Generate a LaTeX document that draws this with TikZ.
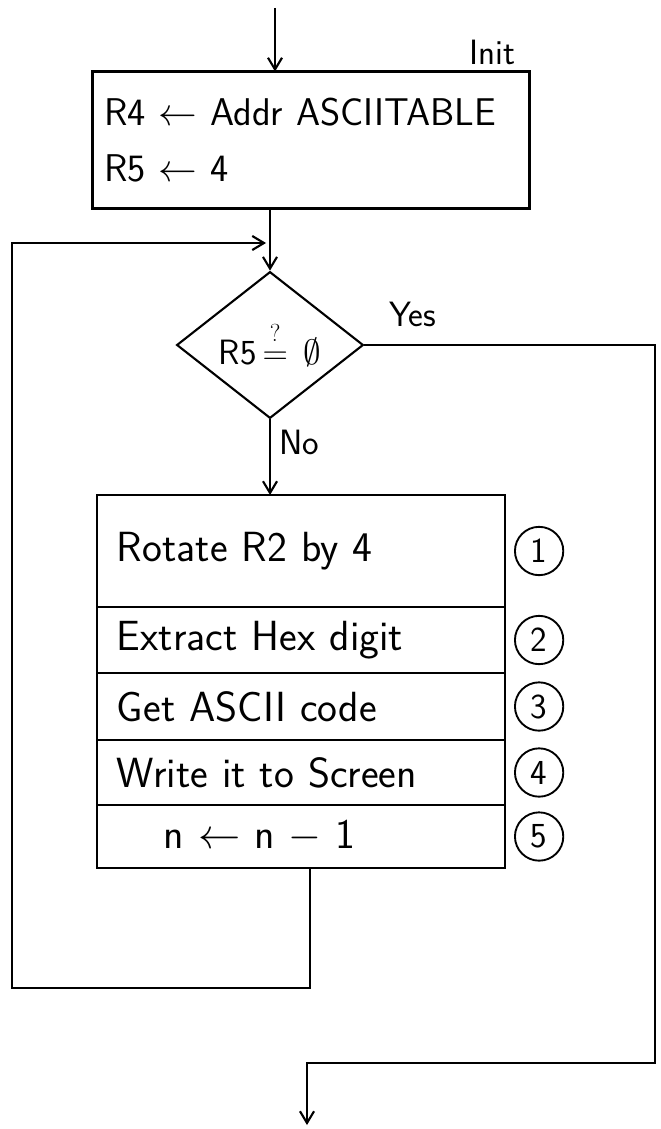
\RequirePackage{fix-cm}
\documentclass[tikz,border=0pt]{standalone}
\usetikzlibrary{shapes.geometric,positioning,arrows.meta}
\begin{document}
\begin{tikzpicture}[x=0.03cm,y=-0.03cm,
  every node/.style={font=\sffamily\fontsize{30}{34}\selectfont},
  flow/.style={line width=1.8pt},
  arr/.style={flow,-{Straight Barb[length=10pt,width=12pt]}},
  blok/.style={draw,line width=1.8pt,rectangle,outer sep=0pt},
  rij/.style={blok,text width=11.04cm,inner xsep=0.6cm,inner ysep=0pt,align=left,
    font=\sffamily\fontsize{36}{40}\selectfont},
  keus/.style={draw,line width=1.8pt,diamond,inner sep=0pt,minimum width=5.6cm,minimum height=4.4cm},
  nummer/.style={draw,line width=1.6pt,circle,minimum size=1.45cm,inner sep=0pt}]
  \useasboundingbox (0,0) rectangle (660,1129);
  % init block
  \node[blok,minimum width=13.11cm,minimum height=4.11cm,text width=12.41cm,inner xsep=0.35cm,align=left,
    font=\sffamily\fontsize{33}{36}\selectfont] (init) at (311,140)
    {R4 $\leftarrow$ Addr ASCIITABLE\\[0.4cm]R5 $\leftarrow$ 4};
  \node (initlbl) at (492,52) {Init};
  \coordinate (in) at (275,8);
  \draw[arr] (in) -- (in |- init.north);
  % test
  \node[keus] (test) at (270,345)
    {R5\,$\stackrel{\raisebox{0.25em}{$\scriptstyle ?$}}{=}\,\emptyset$};
  \draw[arr] (init.south -| test.north) -- (test.north);
  % loop body
  \node[rij,minimum height=3.36cm] (r1) at (301,551) {Rotate R2 by 4};
  \node[rij,minimum height=1.98cm,below=0pt of r1] (r2) {Extract Hex digit};
  \node[rij,minimum height=2.01cm,below=0pt of r2] (r3) {Get ASCII code};
  \node[rij,minimum height=1.95cm,below=0pt of r3] (r4) {Write it to Screen};
  \node[rij,minimum height=1.89cm,below=0pt of r4] (r5) {\hspace*{1.4cm}n $\leftarrow$ n $-$ 1};
  \foreach \i in {1,...,5}
    \node[nummer,right=0.27cm of r\i] (c\i) {\i};
  \draw[arr] (test.south) -- (test.south |- r1.north) node[pos=0.3,right=4pt] (nolbl) {No};
  % back to the test
  \coordinate (lo) at (12,988);
  \coordinate (li) at (266,243);
  \draw[arr] ([xshift=0.27cm]r5.south) |- (lo) |- (li);
  % exit
  \node (yeslbl) at (413,314) {Yes};
  \coordinate (ycorner) at (655,1063);
  \coordinate (out) at (307,1125);
  \draw[arr] (test.east) -| (ycorner) -| (out);
\end{tikzpicture}
\end{document}
